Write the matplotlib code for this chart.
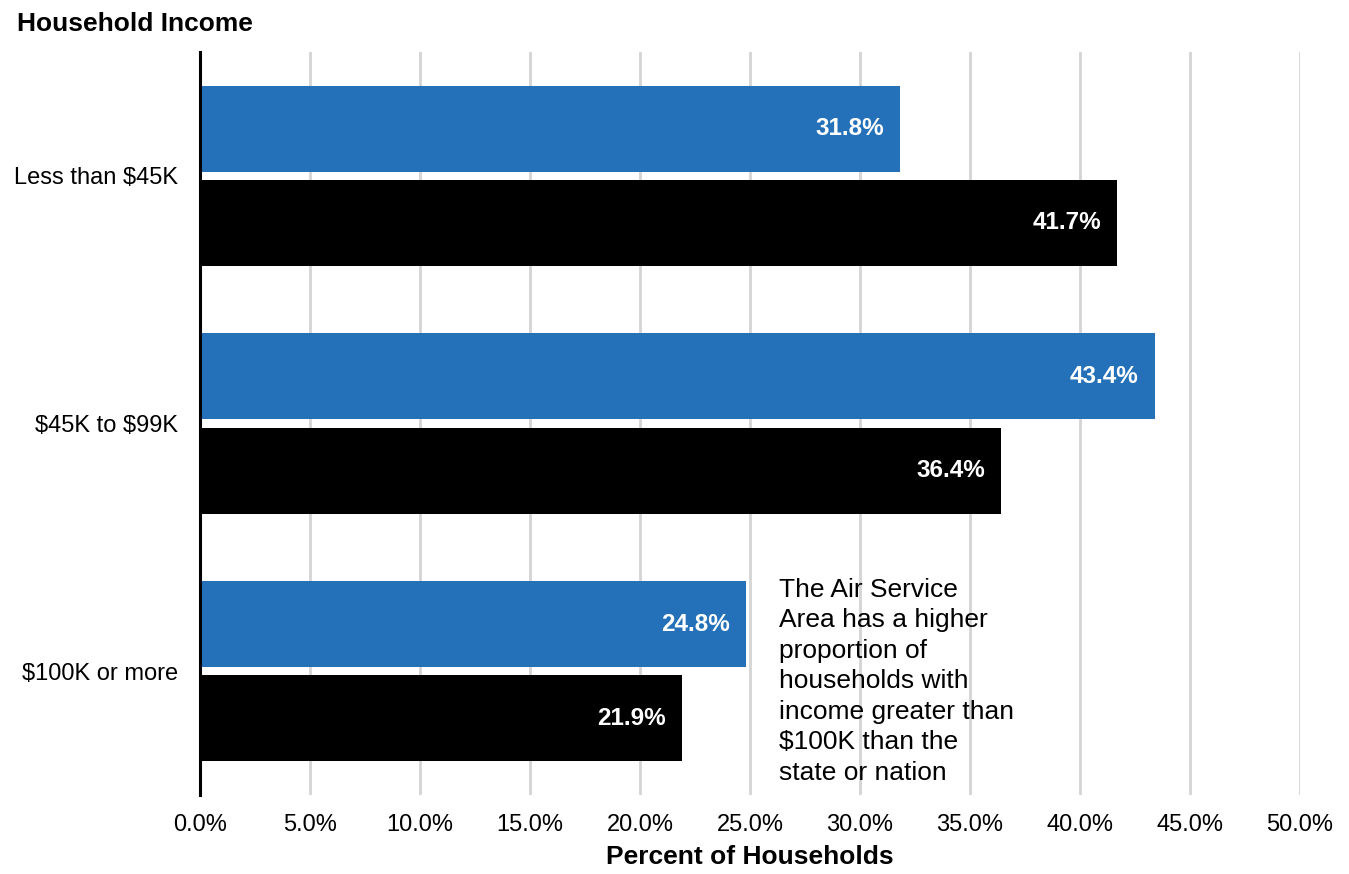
import matplotlib.pyplot as plt
import numpy as np

plt.rcParams["font.family"] = ["Liberation Sans", "DejaVu Sans"]
plt.rcParams["text.parse_math"] = False

categories = ["Less than $45K", "$45K to $99K", "$100K or more"]
area_pct = [31.8, 43.4, 24.8]
nation_pct = [41.7, 36.4, 21.9]
x_ticks = [0, 5, 10, 15, 20, 25, 30, 35, 40, 45, 50]
note = ("The Air Service\nArea has a higher\nproportion of\nhouseholds with\n"
        "income greater than\n$100K than the\nstate or nation")

BLUE = "#2471B9"

fig = plt.figure(figsize=(13.49, 8.74), dpi=100)
ax = fig.add_axes([0.1483, 0.0904, 0.8154, 0.8501])

y = np.arange(len(categories))
h = 0.347
off = 0.19
bars_a = ax.barh(y - off, area_pct, height=h, color=BLUE, zorder=3)
bars_n = ax.barh(y + off, nation_pct, height=h, color="black", zorder=3)

# value labels sit just inside the end of each bar
for bars, vals in ((bars_a, area_pct), (bars_n, nation_pct)):
    for b, v in zip(bars, vals):
        ax.annotate(f"{v:.1f}%", xy=(v, b.get_y() + b.get_height() / 2),
                    xytext=(-11.5, 0), textcoords="offset points",
                    ha="right", va="center", color="white",
                    fontsize=17.5, fontweight="bold", zorder=4)

ax.set_xlim(0, 50)
ax.set_ylim(2.5, -0.5)
ax.set_xticks(x_ticks)
ax.set_xticklabels([f"{t:.1f}%" for t in x_ticks], fontsize=17)
ax.set_yticks(y)
ax.set_yticklabels(categories, fontsize=17)
ax.tick_params(length=0)
ax.tick_params(axis="x", pad=14)
ax.tick_params(axis="y", pad=16)
ax.grid(axis="x", color="#d4d4d4", linewidth=2, zorder=0)
for side in ("top", "right", "bottom"):
    ax.spines[side].set_visible(False)
ax.spines["left"].set_linewidth(2.2)
ax.spines["left"].set_zorder(5)

ax.set_xlabel("Percent of Households", fontsize=19, fontweight="bold", labelpad=6)
fig.text(0.0126, 0.9725, "Household Income", fontsize=19, fontweight="bold",
         ha="left", va="center")

ax.text(26.3, 1.624, note, fontsize=19, ha="left", va="top",
        linespacing=1.34, zorder=4)

fig.savefig("out.png", dpi=100)
